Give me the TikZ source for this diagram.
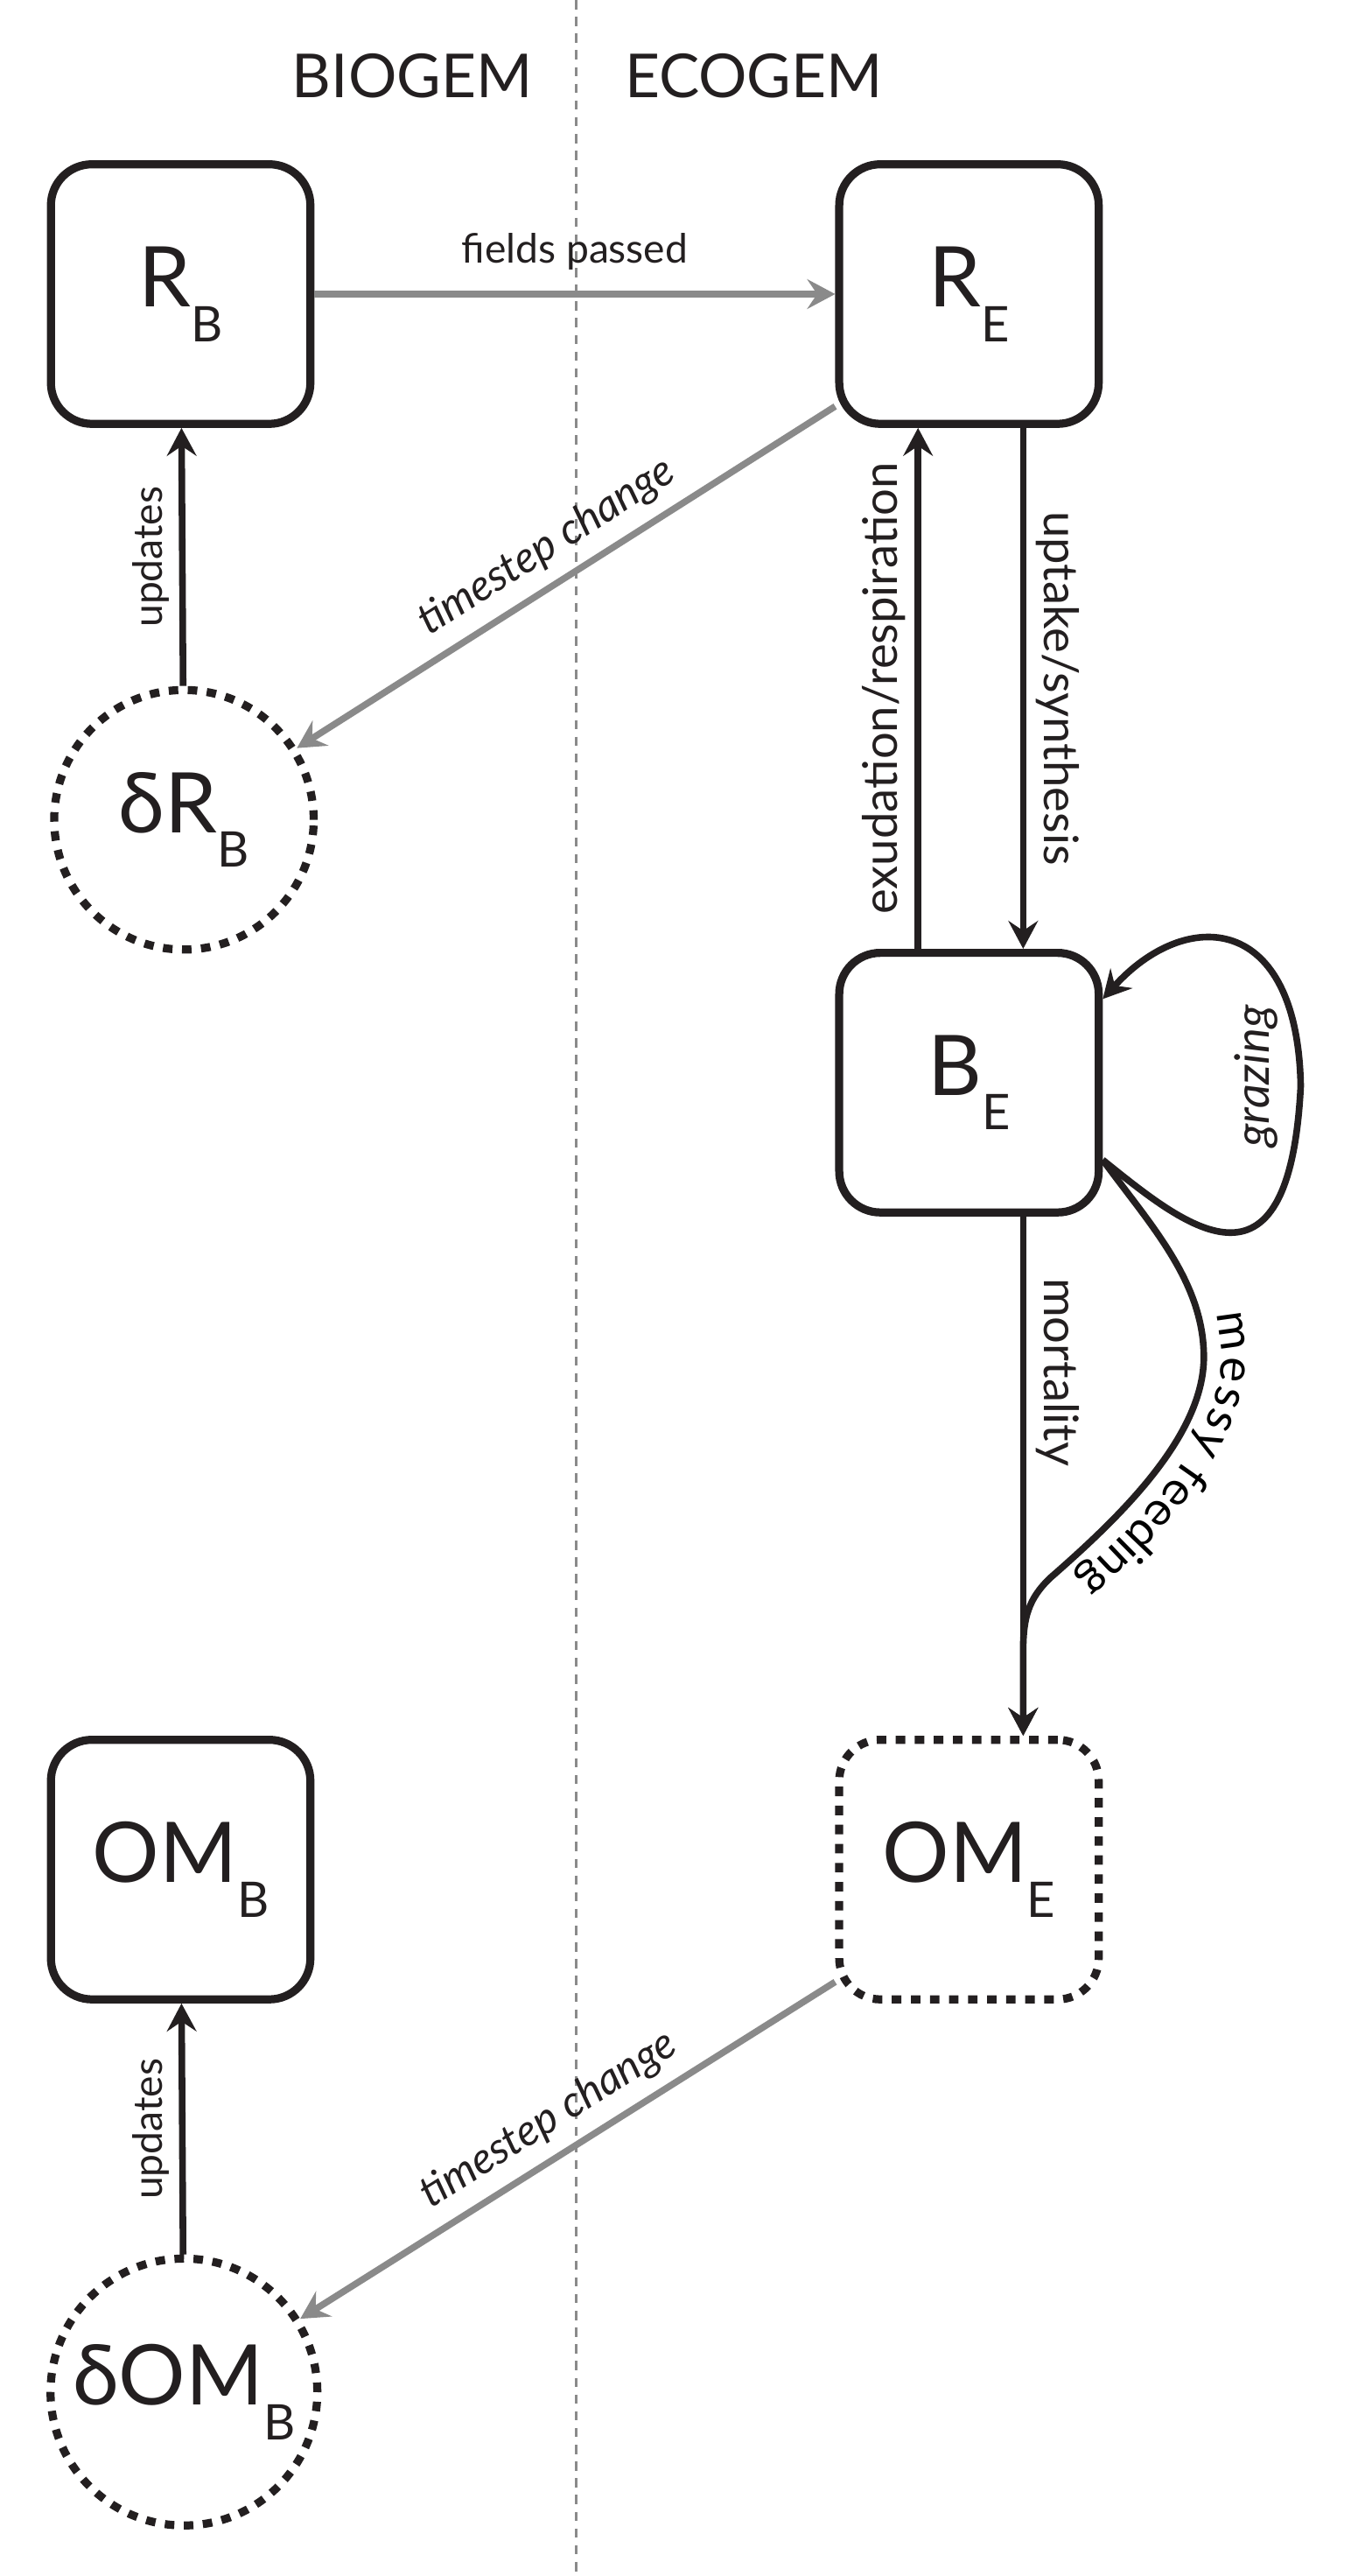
\documentclass[tikz,border=0pt]{standalone}
\usepackage{fontspec}
\setmainfont{Lato}
\usetikzlibrary{arrows.meta, decorations.text}

\definecolor{ink}{HTML}{231F20}
\definecolor{passgray}{HTML}{8A8A8A}

% pool name with a dropped subscript
\newcommand{\pool}[2]{#1\raisebox{-12pt}{\fontsize{17}{18}\selectfont #2}}

\begin{document}
\begin{tikzpicture}[x=0.2mm, y=-0.2mm]

  % Styles
  \tikzset{
    stock/.style={draw=ink, text=ink, fill=white, line width=2.8pt,
      rounded corners=0.5cm, minimum width=3.16cm, minimum height=3.16cm,
      font=\fontsize{29}{32}\selectfont},
    tempo/.style={stock, dash pattern=on 3.3pt off 3.3pt},
    delta/.style={circle, draw=ink, text=ink, fill=white, line width=2.8pt,
      dash pattern=on 3.3pt off 3.3pt, minimum size=3.16cm,
      font=\fontsize{29}{32}\selectfont},
    flow/.style={-{Stealth[length=3.4mm,width=3.6mm,inset=1.2mm]},
      line width=2.3pt, draw=ink},
    passed/.style={flow, draw=passgray, line width=2.3pt},
    lbl/.style={font=\fontsize{14}{16}\selectfont, text=ink},
    slbl/.style={font=\fontsize{15}{17}\selectfont\itshape, text=ink},
    biglbl/.style={font=\fontsize{16.5}{18}\selectfont, text=ink},
    head/.style={font=\fontsize{21}{24}\selectfont, text=ink},
    divide/.style={draw=passgray, line width=0.8pt, dash pattern=on 3.2pt off 2.6pt}
  }

  \useasboundingbox (0,0) rectangle (831,1568);

  %% Divider and model names
  \draw[divide] (351,0) -- (351,1568);
  \node[head] (biogem) at (251,46) {BIOGEM};
  \node[head] (ecogem) at (459,46) {ECOGEM};

  %% Pools
  \node[stock] (RB)   at (110,179)  {\pool{R}{B}};
  \node[stock] (RE)   at (590,179)  {\pool{R}{E}};
  \node[delta] (dRB)  at (112,499)  {\pool{δR}{B}};
  \node[stock] (BE)   at (590,659)  {\pool{B}{E}};
  \node[stock] (OMB)  at (110,1138) {\pool{OM}{B}};
  \node[tempo] (OME)  at (590,1138) {\pool{OM}{E}};
  \node[delta] (dOMB) at (112,1456) {\pool{δOM}{B}};

  %% BIOGEM <-> ECOGEM
  \draw[passed] (RB) -- node[lbl, above=4pt] (lfields) {fields passed} (RE);
  \draw[passed] (RE.220) -- node[slbl, sloped, above=1pt] (ltime1) {timestep change} (dRB);
  \draw[passed] (OME.220) -- node[slbl, sloped, above=1pt] (ltime2) {timestep change} (dOMB);

  % updates
  \draw[flow] (dRB) -- node[lbl, rotate=90, anchor=south] (lupd1) {updates} (RB);
  \draw[flow] (dOMB) -- node[lbl, rotate=90, anchor=south] (lupd2) {updates} (OMB);

  %% ECOGEM fluxes
  \draw[flow] ([xshift=-0.62cm]BE.north) -- node[biglbl, rotate=90, anchor=south] (lexu)
    {exudation/respiration} ([xshift=-0.62cm]RE.south);
  \draw[flow] ([xshift=0.66cm]RE.south) -- node[biglbl, rotate=-90, anchor=south] (lupt)
    {uptake/synthesis} ([xshift=0.66cm]BE.north);
  \draw[flow] ([xshift=0.66cm]BE.south) -- node[biglbl, rotate=-90, anchor=south, pos=0.3] (lmort)
    {mortality} ([xshift=0.66cm]OME.north);

  % grazing loop
  \draw[flow] (BE.-30) .. controls (720,745) and (785,800) .. (792,661)
    .. controls (790,555) and (722,552) .. (BE.32);
  \node[biglbl, font=\fontsize{16.5}{18}\selectfont\itshape, rotate=90] (lgraze) at (765,655) {grazing};

  % messy feeding
  \draw[flow, postaction={decorate, decoration={text along path, text align=center, raise=6pt,
      text={|\fontsize{16.5}{18}\selectfont|messy feeding}}}]
    (BE.-30) .. controls (700,745) and (733,780) .. (733,826)
    .. controls (733,875) and (680,925) .. (640,960)
    .. controls (626,973) and (623,985) .. (623,1005)
    -- ([xshift=0.66cm]OME.north);

\end{tikzpicture}
\end{document}
